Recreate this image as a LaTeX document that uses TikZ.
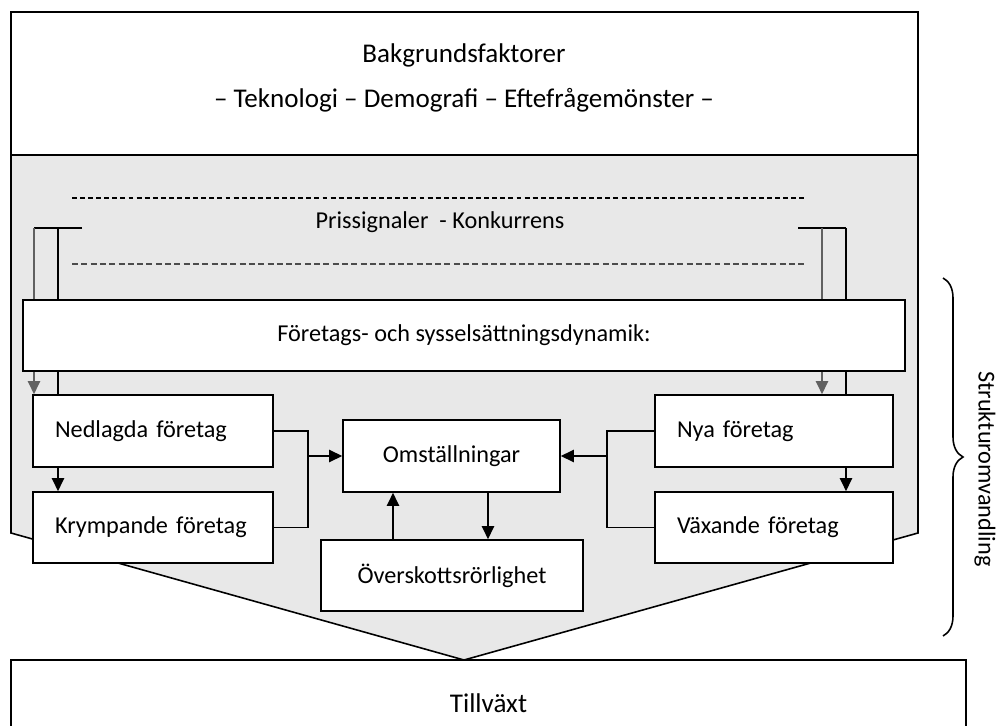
\documentclass[tikz,border=0pt]{standalone}
\usepackage{fontspec}
\setmainfont{Carlito}
\usetikzlibrary{arrows.meta,decorations.pathreplacing}

\begin{document}
\begin{tikzpicture}[x=0.02cm,y=-0.02cm,
  txt/.style={font=\fontsize{13.8}{16}\selectfont},
  bigtxt/.style={font=\fontsize{15.4}{18}\selectfont},
  box/.style={txt,draw,fill=white,line width=0.9pt,inner sep=0pt},
  sidebox/.style={box,align=left,text width=3.92cm,inner xsep=0.44cm},
  arrow/.style={line width=0.9pt,-{Triangle[length=7.5pt,width=7pt]}},
  grayarrow/.style={line width=0.9pt,draw=black!62,-{Triangle[length=7.5pt,width=7pt]}}]
  \useasboundingbox (0,0) rectangle (997,726);

  \draw[line width=0.9pt,fill=black!9] (11,155) -- (918,155) -- (918,533) -- (464,660) -- (11,533) -- cycle;
  \node[box,minimum width=18.14cm,minimum height=2.86cm] (bakgrund) at (464.5,83.5) {};
  \node[bigtxt] (bakgrundtxt) at (464,55) {Bakgrundsfaktorer};
  \node[bigtxt] (faktorer) at (464,100) {– Teknologi – Demografi – Eftefrågemönster –};
  \node[box,bigtxt,minimum width=19.1cm,minimum height=1.72cm] (tillvaxt) at (488.5,703) {Tillväxt};

  \draw[line width=1.1pt,dash pattern=on 2.8pt off 1.8pt] (72,198) -- (807,198);
  \draw[line width=0.6pt,draw=black!70,dash pattern=on 3.4pt off 1.9pt] (72,264) -- (807,264);
  \node[txt] (priser) at (440,222) {Prissignaler~ - Konkurrens};

  \node[box,minimum width=4.8cm,minimum height=1.44cm,sidebox] (nedlagda) at (153,431) {Nedlagda företag};
  \node[box,minimum width=4.8cm,minimum height=1.42cm,sidebox] (krympande) at (153,527.5) {Krympande företag};
  \node[box,minimum width=4.76cm,minimum height=1.44cm,sidebox,text width=3.88cm] (nya) at (774,431) {Nya företag};
  \node[box,minimum width=4.76cm,minimum height=1.42cm,sidebox,text width=3.88cm] (vaxande) at (774,527.5) {Växande företag};
  \node[box,minimum width=4.34cm,minimum height=1.44cm] (omst) at (451.5,456) {Omställningar};
  \node[box,minimum width=5.24cm,minimum height=1.42cm] (overskott) at (452,575.5) {Överskottsrörlighet};

  \coordinate (lsig) at (82,228);
  \coordinate (lout) at (34,228);
  \coordinate (lin) at (58,228);
  \coordinate (rsig) at (798,228);
  \coordinate (rin) at (822,228);
  \coordinate (rout) at (846,228);
  \coordinate (ljoin) at (308,456);
  \coordinate (rjoin) at (607,456);
  \coordinate (upx) at (393,0);
  \coordinate (downx) at (488,0);

  \draw[line width=0.9pt] (lsig) -- (lout);
  \draw[grayarrow] (lout) -- (lout |- nedlagda.north);
  \draw[line width=0.9pt] (lin) -- (lin |- nedlagda.north);
  \draw[line width=0.9pt] (rsig) -- (rout);
  \draw[grayarrow] (rin) -- (rin |- nya.north);
  \draw[line width=0.9pt] (rout) -- (rout |- nya.north);

  \node[box,minimum width=17.64cm,minimum height=1.42cm] (foretag) at (464,335.5) {Företags- och sysselsättningsdynamik:};

  \draw[arrow] (lin |- nedlagda.south) -- (lin |- krympande.north);
  \draw[arrow] (rout |- nya.south) -- (rout |- vaxande.north);
  \draw[line width=0.9pt] (nedlagda.east) -| (ljoin) |- (krympande.east);
  \draw[arrow] (ljoin) -- (omst.west);
  \draw[line width=0.9pt] (nya.west) -| (rjoin) |- (vaxande.west);
  \draw[arrow] (rjoin) -- (omst.east);
  \draw[arrow] (upx |- overskott.north) -- (upx |- omst.south);
  \draw[arrow] (downx |- omst.south) -- (downx |- overskott.north);

  \coordinate (bracetop) at (943,278);
  \coordinate (bracebot) at (943,636);
  \draw[line width=0.9pt,decorate,decoration={brace,amplitude=0.4cm}] (bracetop) -- (bracebot);
  \node[txt,rotate=-90] (struktur) at (985,469) {Strukturomvandling};
\end{tikzpicture}
\end{document}
